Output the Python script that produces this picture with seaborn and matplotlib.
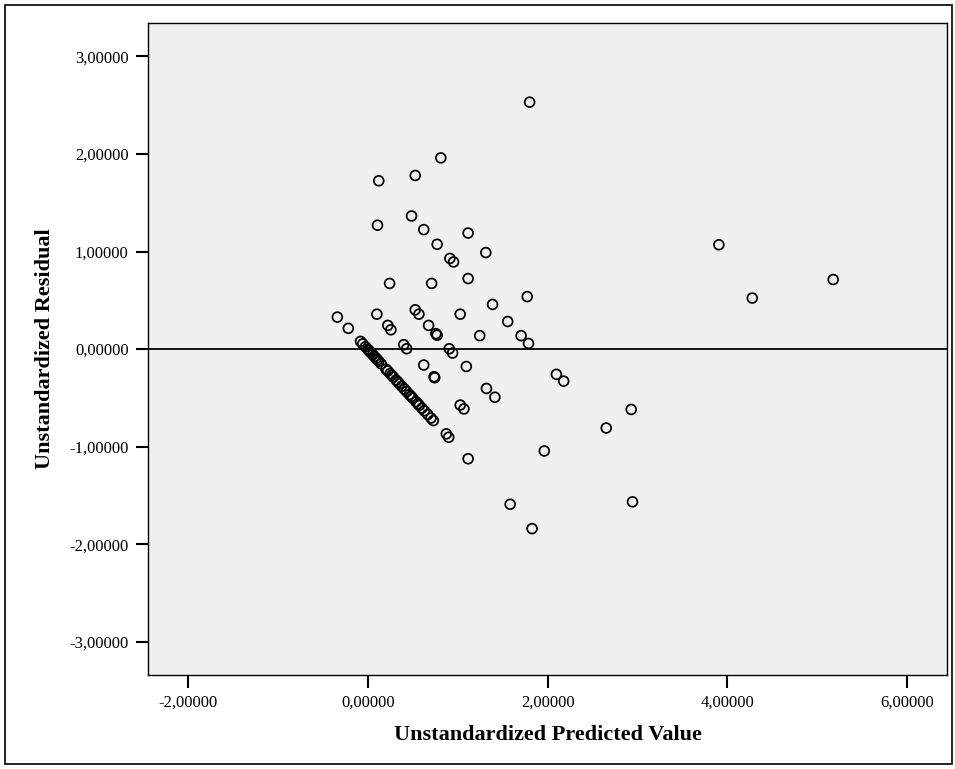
import matplotlib
matplotlib.use("Agg")
import matplotlib.pyplot as plt
import matplotlib.ticker as mticker
from matplotlib.patches import Rectangle
import seaborn as sns
import pandas as pd

# Scattered cases (predicted value, residual)
pred_main = [1.799, 0.810, 0.525, 0.119, 0.484, 0.105, 0.620, 1.114, 0.769, 1.311,
             0.911, 0.952, 1.114, 0.240, 0.708, 1.772, 1.386, 3.906, 4.278, 5.179,
             -0.342, -0.220, 0.098, 0.525, 0.566, 1.026, 0.220, 0.254, 0.674, 0.755,
             0.769, 1.555, 1.243, 1.704, 1.786, 0.397, 0.430, 0.904, 0.941, 0.620,
             0.735, 0.742, 1.094, 2.097, 2.178, 1.318, 1.412, 1.026, 1.067, 0.871,
             0.898, 1.114, 2.930, 2.652, 1.962, 1.582, 2.944, 1.826]
resid_main = [2.530, 1.959, 1.779, 1.724, 1.364, 1.269, 1.224, 1.189, 1.074, 0.989,
              0.929, 0.893, 0.723, 0.673, 0.673, 0.538, 0.458, 1.069, 0.523, 0.713,
              0.328, 0.213, 0.358, 0.403, 0.358, 0.358, 0.243, 0.198, 0.243, 0.158,
              0.143, 0.283, 0.138, 0.138, 0.058, 0.045, 0.004, 0.004, -0.040, -0.163,
              -0.283, -0.293, -0.178, -0.258, -0.328, -0.403, -0.493, -0.573, -0.613, -0.868,
              -0.903, -1.123, -0.618, -0.808, -1.043, -1.589, -1.564, -1.839]

# Dense diagonal band of cases
pred_band = [-0.084, -0.059, -0.029, -0.003, 0.010, 0.027, 0.052, 0.070, 0.090, 0.105,
             0.119, 0.145, 0.200, 0.219, 0.245, 0.262, 0.282, 0.312, 0.330, 0.349,
             0.375, 0.404, 0.430, 0.460, 0.480, 0.497, 0.534, 0.555, 0.571, 0.600,
             0.627, 0.664, 0.701, 0.727]
resid_band = [0.079, 0.054, 0.024, -0.002, -0.015, -0.032, -0.057, -0.075, -0.095, -0.110,
              -0.124, -0.150, -0.205, -0.224, -0.250, -0.267, -0.287, -0.317, -0.335, -0.354,
              -0.380, -0.409, -0.435, -0.465, -0.485, -0.502, -0.539, -0.560, -0.576, -0.605,
              -0.632, -0.669, -0.706, -0.732]

x_ticks = [-2, 0, 2, 4, 6]
y_ticks = [-3, -2, -1, 0, 1, 2, 3]
x_label = "Unstandardized Predicted Value"
y_label = "Unstandardized Residual"

df = pd.DataFrame({
    "pred": pred_main + pred_band,
    "resid": resid_main + resid_band,
})

sns.set_style("white")
plt.rcParams["font.family"] = ["Liberation Serif", "DejaVu Serif"]
plt.rcParams["text.color"] = "black"
plt.rcParams["axes.labelcolor"] = "black"
plt.rcParams["xtick.color"] = "black"
plt.rcParams["ytick.color"] = "black"

fig = plt.figure(figsize=(9.55, 7.69), dpi=100)
ax = fig.add_axes([0.155, 0.122, 0.837, 0.848])
ax.set_facecolor("#F0F0F0")

sns.scatterplot(data=df, x="pred", y="resid", ax=ax, marker="o", s=50,
                facecolors="none", edgecolors="black", linewidth=1.25, legend=False)
for pc in ax.collections:
    pc.set_facecolor("none")
    pc.set_edgecolor("black")
    pc.set_linewidth(1.25)

ax.axhline(0, color="black", lw=1.3, zorder=1)

ax.set_xlim(-2.45, 6.45)
ax.set_ylim(-3.34, 3.34)
ax.set_xticks(x_ticks)
ax.set_yticks(y_ticks)
fmt = mticker.FuncFormatter(lambda v, p: f"{v:.5f}".replace(".", ","))
ax.xaxis.set_major_formatter(fmt)
ax.yaxis.set_major_formatter(fmt)
ax.tick_params(axis="both", direction="out", length=9, width=1.5, color="black",
               labelcolor="black", labelsize=12, pad=5, bottom=True, left=True)
for sp in ax.spines.values():
    sp.set_color("black")
    sp.set_linewidth(1.0)

ax.set_xlabel(x_label, fontsize=16, fontweight="bold", labelpad=10, color="black")
ax.set_ylabel(y_label, fontsize=16, fontweight="bold", labelpad=10, color="black")

fig.patches.append(Rectangle((5 / 955, 5 / 769), 947 / 955, 759 / 769,
                             transform=fig.transFigure, fill=False,
                             edgecolor="black", linewidth=1.2))

fig.savefig("out.png", dpi=100)
